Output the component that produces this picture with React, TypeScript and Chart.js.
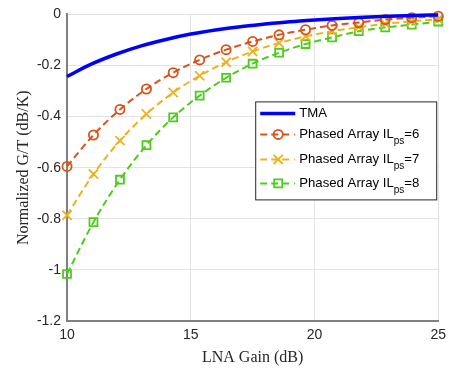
import React, { useEffect, useRef } from "react";
import { Chart, registerables } from "chart.js";

Chart.register(...registerables);

// LNA gain (dB) sample points for the phased-array curves
const gainX = [10, 11.07, 12.14, 13.21, 14.29, 15.36, 16.43, 17.5, 18.57, 19.64, 20.71, 21.79, 22.86, 23.93, 25];
// LNA gain for the TMA curve
const tmaX = [10, 11, 12, 13, 14, 15, 16, 17, 18, 19, 20, 21, 22, 23, 24, 25];
const tmaY = [-0.243, -0.194, -0.155, -0.123, -0.098, -0.077, -0.061, -0.048, -0.038, -0.029, -0.022, -0.016, -0.011, -0.007, -0.004, -0.002];
const il6Y = [-0.595, -0.472, -0.372, -0.292, -0.228, -0.178, -0.138, -0.106, -0.08, -0.06, -0.043, -0.032, -0.02, -0.013, -0.007];
const il7Y = [-0.786, -0.625, -0.494, -0.39, -0.306, -0.24, -0.187, -0.145, -0.112, -0.086, -0.066, -0.05, -0.037, -0.027, -0.019];
const il8Y = [-1.016, -0.813, -0.647, -0.512, -0.403, -0.318, -0.248, -0.193, -0.15, -0.116, -0.09, -0.066, -0.051, -0.04, -0.028];

const seriesNames = ["TMA", "Phased Array IL", "Phased Array IL", "Phased Array IL"];
const seriesSubs = ["", "ps", "ps", "ps"];
const seriesSuffix = ["", "=6", "=7", "=8"];

const xTitle = "LNA Gain (dB)";
const yTitle = "Normalized G/T (dB/K)";

const BLUE = "#0000ff";
const ORANGE = "#d95319";
const YELLOW = "#edb120";
const GREEN = "#4dcc1a";

const colors = [BLUE, ORANGE, YELLOW, GREEN];
const markers = ["", "circle", "crossRot", "rect"];

function drawMarker(ctx: CanvasRenderingContext2D, kind: string, x: number, y: number, color: string) {
  ctx.save();
  ctx.strokeStyle = color;
  ctx.lineWidth = 1.8;
  ctx.setLineDash([]);
  ctx.beginPath();
  if (kind === "circle") {
    ctx.arc(x, y, 4.6, 0, Math.PI * 2);
  } else if (kind === "crossRot") {
    const d = 4.6;
    ctx.moveTo(x - d, y - d);
    ctx.lineTo(x + d, y + d);
    ctx.moveTo(x + d, y - d);
    ctx.lineTo(x - d, y + d);
  } else if (kind === "rect") {
    ctx.rect(x - 4, y - 4, 8, 8);
  }
  ctx.stroke();
  ctx.restore();
}

const legendPlugin = {
  id: "customLegend",
  afterDraw(chart: any) {
    const ctx: CanvasRenderingContext2D = chart.ctx;
    const area = chart.chartArea;
    const right = area.right - 1;
    const left = right - 182;
    const top = area.top + 87;
    const bottom = top + 99;
    ctx.save();
    ctx.fillStyle = "#ffffff";
    ctx.fillRect(left, top, right - left, bottom - top);
    ctx.strokeStyle = "#262626";
    ctx.lineWidth = 1;
    ctx.strokeRect(left + 0.5, top + 0.5, right - left - 1, bottom - top - 1);
    const rowsY = [top + 12, top + 33, top + 58, top + 82];
    const lx0 = left + 5;
    const lx1 = left + 40;
    const tx = left + 44;
    for (let i = 0; i < 4; i++) {
      const y = rowsY[i];
      ctx.strokeStyle = colors[i];
      if (i === 0) {
        ctx.lineWidth = 3.5;
        ctx.setLineDash([]);
        ctx.beginPath();
        ctx.moveTo(lx0, y);
        ctx.lineTo(lx1, y);
        ctx.stroke();
      } else {
        ctx.lineWidth = 2;
        ctx.setLineDash([7, 4]);
        ctx.beginPath();
        ctx.moveTo(lx0, y);
        ctx.lineTo(lx1 - 2, y);
        ctx.stroke();
        ctx.setLineDash([]);
        ctx.beginPath();
        ctx.moveTo(lx1 - 1, y);
        ctx.lineTo(lx1, y);
        ctx.stroke();
        drawMarker(ctx, markers[i], lx0 + 18, y, colors[i]);
      }
      ctx.fillStyle = "#000000";
      ctx.textBaseline = "middle";
      ctx.textAlign = "left";
      ctx.font = "13.2px 'Liberation Sans', Arial, sans-serif";
      ctx.fillText(seriesNames[i], tx, y);
      let w = ctx.measureText(seriesNames[i]).width;
      if (seriesSubs[i]) {
        ctx.font = "10px 'Liberation Sans', Arial, sans-serif";
        ctx.fillText(seriesSubs[i], tx + w, y + 7);
        w += ctx.measureText(seriesSubs[i]).width;
        ctx.font = "13.2px 'Liberation Sans', Arial, sans-serif";
        ctx.fillText(seriesSuffix[i], tx + w, y);
      }
    }
    ctx.restore();
  },
};

export default function App() {
  const ref = useRef<HTMLCanvasElement | null>(null);

  useEffect(() => {
    document.body.style.margin = "0";
    const canvas = ref.current;
    if (!canvas) return;
    const tickFont = { family: "'Liberation Sans', Arial, sans-serif", size: 14 };
    const titleFont = { family: "'Liberation Serif', 'Times New Roman', serif", size: 16 };

    const mk = (xs: number[], ys: number[]) => xs.map((x, i) => ({ x, y: ys[i] }));

    const chart = new Chart(canvas, {
      type: "line",
      data: {
        datasets: [
          {
            label: "TMA",
            data: mk(tmaX, tmaY),
            borderColor: BLUE,
            borderWidth: 3.5,
            pointRadius: 0,
            cubicInterpolationMode: "monotone",
            clip: false,
          },
          {
            label: "Phased Array ILps=6",
            data: mk(gainX, il6Y),
            borderColor: ORANGE,
            borderWidth: 2,
            borderDash: [7, 4],
            pointStyle: "circle",
            pointRadius: 4.6,
            pointBorderWidth: 1.8,
            pointBorderColor: ORANGE,
            pointBackgroundColor: "rgba(0,0,0,0)",
            cubicInterpolationMode: "monotone",
            clip: false,
          },
          {
            label: "Phased Array ILps=7",
            data: mk(gainX, il7Y),
            borderColor: YELLOW,
            borderWidth: 2,
            borderDash: [7, 4],
            pointStyle: "crossRot",
            pointRadius: 6.5,
            pointBorderWidth: 1.8,
            pointBorderColor: YELLOW,
            pointBackgroundColor: "rgba(0,0,0,0)",
            cubicInterpolationMode: "monotone",
            clip: false,
          },
          {
            label: "Phased Array ILps=8",
            data: mk(gainX, il8Y),
            borderColor: GREEN,
            borderWidth: 2,
            borderDash: [7, 4],
            pointStyle: "rect",
            pointRadius: 5.6,
            pointBorderWidth: 1.8,
            pointBorderColor: GREEN,
            pointBackgroundColor: "rgba(0,0,0,0)",
            cubicInterpolationMode: "monotone",
            clip: false,
          },
        ],
      },
      options: {
        responsive: false,
        animation: false,
        layout: { padding: { left: 0, right: 11, top: 10, bottom: 0 } },
        plugins: {
          legend: { display: false },
          tooltip: { enabled: false },
        },
        scales: {
          x: {
            type: "linear",
            min: 10,
            max: 25,
            ticks: {
              stepSize: 5,
              font: tickFont,
              color: "#262626",
              padding: 6,
              maxRotation: 0,
            },
            grid: { color: "#e3e3e3", lineWidth: 1, drawTicks: false },
            border: { color: "#808080", width: 2 },
            title: {
              display: true,
              text: xTitle,
              font: titleFont,
              color: "#262626",
              padding: { top: 0, bottom: 4 },
            },
            afterFit: (s: any) => {
              s.height = 50;
            },
          },
          y: {
            type: "linear",
            min: -1.2,
            max: 0,
            ticks: {
              stepSize: 0.2,
              font: tickFont,
              color: "#262626",
              padding: 6,
              callback: (v: any) => {
                const n = Number(Number(v).toFixed(1));
                return n === 0 ? "0" : String(n);
              },
            },
            grid: { color: "#e3e3e3", lineWidth: 1, drawTicks: false },
            border: { color: "#808080", width: 2 },
            title: {
              display: true,
              text: yTitle,
              font: titleFont,
              color: "#262626",
              padding: { top: 14, bottom: 0 },
            },
            afterFit: (s: any) => {
              s.width = 67;
            },
          },
        },
      },
      plugins: [legendPlugin],
    } as any);

    return () => chart.destroy();
  }, []);

  return (
    <div style={{ width: 452, height: 371, background: "#fff" }}>
      <canvas ref={ref} width={452} height={371} style={{ display: "block" }} />
    </div>
  );
}
